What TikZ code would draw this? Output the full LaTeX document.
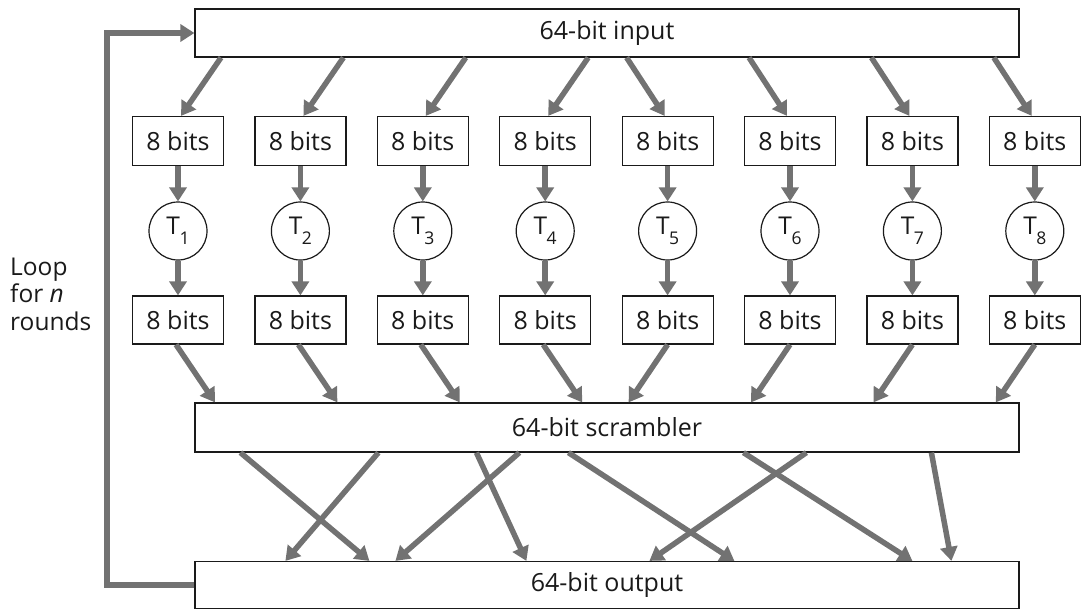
\documentclass[tikz,border=0pt]{standalone}
\usepackage{fontspec}
\setmainfont{Open Sans}
\usetikzlibrary{arrows.meta}
\definecolor{arrgray}{HTML}{727272}
\definecolor{ink}{HTML}{1A1A1A}
\newcommand\Tn[1]{T\kern-0.5pt\raisebox{-10.5pt}{\fontsize{17.5}{18}\selectfont #1}}
\begin{document}
\begin{tikzpicture}[x=1pt,y=-1pt,
  box/.style={draw=ink, line width=1.2pt, fill=white, inner sep=0pt, text=ink,
    minimum width=91pt, minimum height=49pt, font=\fontsize{25}{28}\selectfont},
  widebox/.style={box, minimum width=824pt},
  tnode/.style={draw=ink, line width=1.2pt, circle, fill=white, inner sep=0pt, text=ink,
    minimum size=58pt, font=\fontsize{24.5}{28}\selectfont},
  arr/.style={draw=arrgray, line width=5.5pt, -{Triangle[width=17pt,length=14pt]}}]
\useasboundingbox (0,0) rectangle (1081,610);

% wide boxes
\node[widebox, minimum height=48pt] (in) at (607,33) {64-bit input};
\node[widebox] (sc) at (607,427.5) {64-bit scrambler};
\node[widebox, minimum height=47pt] (out) at (607,585) {64-bit output};

% columns
\foreach \i in {1,...,8}{
  \pgfmathsetmacro{\cx}{178+122.4*(\i-1)}
  \node[box] (t\i) at (\cx,141) {8 bits};
  \node[tnode] (c\i) at (\cx,231) {\Tn{\i}};
  \node[box, minimum height=48pt] (b\i) at (\cx,320) {8 bits};
  \draw[arr] (t\i.south) -- (c\i.north);
  \draw[arr] (c\i.south) -- (b\i.north);
}

% input -> top boxes, bottom boxes -> scrambler
\foreach \i in {1,...,4}{
  \draw[arr] ([xshift=43pt]t\i.north |- in.south) -- ([xshift=3pt]t\i.north);
  \draw[arr] ([xshift=-2pt]b\i.south) -- ([xshift=37pt]b\i.south |- sc.north);
}
\foreach \i in {5,...,8}{
  \draw[arr] ([xshift=-41pt]t\i.north |- in.south) -- ([xshift=-3pt]t\i.north);
  \draw[arr] (b\i.south) -- ([xshift=-39pt]b\i.south |- sc.north);
}

% scrambler -> output
\foreach \s/\e in {46/175, 184/91, 282/332, 325/201, 374/540, 549/718, 612/455, 737/757}{
  \draw[arr] ([xshift=\s pt]sc.south west) -- ([xshift=\e pt]out.north west);
}

% loop
\coordinate (lp) at (107,587);
\draw[arr] (out.west) -- (out.west -| lp) |- (in.west);

\node[anchor=west, align=left, inner sep=0pt, text=ink,
  font=\fontsize{24.5}{27.5}\selectfont] (loop) at (10,294)
  {Loop\\for \textit{n}\\rounds};
\end{tikzpicture}
\end{document}
